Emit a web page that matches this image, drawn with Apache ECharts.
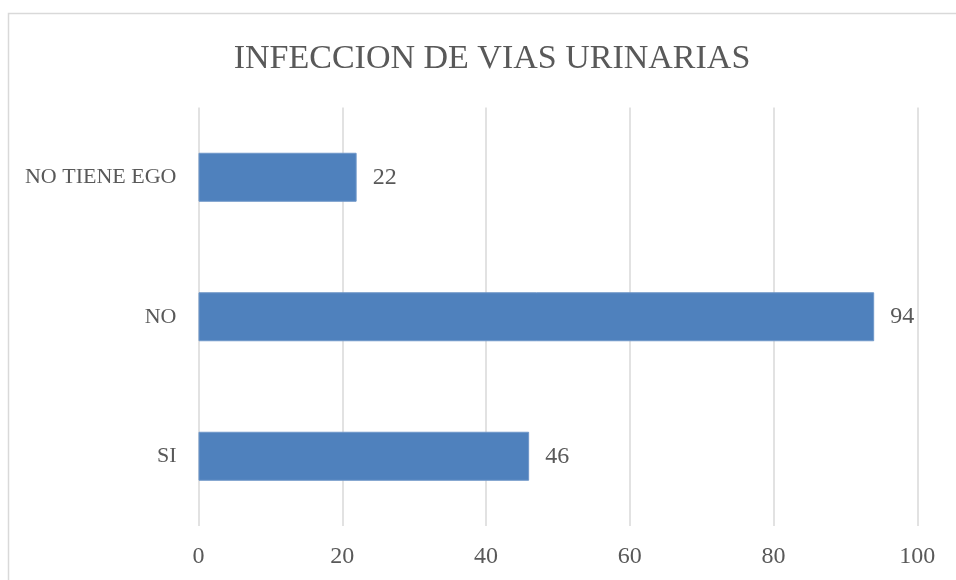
<!DOCTYPE html>
<html>
<head>
<meta charset="utf-8">
<script src="https://cdn.jsdelivr.net/npm/echarts@6/dist/echarts.min.js"></script>
<style>
  html, body { margin: 0; padding: 0; background: #fff; }
  #main { width: 956px; height: 580px; }
</style>
</head>
<body>
<div id="main"></div>
<script>
// datos del grafico
var categorias = ["SI", "NO", "NO TIENE EGO"];
var valores = [46, 94, 22];
var ejeMin = 0;
var ejeMax = 100;
var ejePaso = 20;

var fuente = "Liberation Serif";
var gris = "#595959";

var myChart = echarts.init(document.getElementById("main"));
myChart.setOption({
  animation: false,
  title: {
    text: "INFECCION DE VIAS URINARIAS",
    left: 487,
    top: 54,
    textAlign: "center",
    textVerticalAlign: "middle",
    textStyle: {
      fontFamily: fuente,
      fontSize: 34,
      fontWeight: "normal",
      color: gris
    }
  },
  graphic: [
    {
      type: "rect",
      left: 6,
      top: 11,
      shape: { width: 1000, height: 1000 },
      style: { fill: "none", stroke: "#d9d9d9", lineWidth: 1.5 },
      silent: true
    }
  ],
  grid: {
    left: 198.5,
    right: 38.7,
    top: 107.5,
    bottom: 54
  },
  xAxis: {
    type: "value",
    min: ejeMin,
    max: ejeMax,
    interval: ejePaso,
    axisLine: { show: false },
    axisTick: { show: false },
    splitLine: { lineStyle: { color: "#d9d9d9", width: 1.5 } },
    axisLabel: {
      margin: 19,
      fontFamily: fuente,
      fontSize: 24,
      color: gris
    }
  },
  yAxis: {
    type: "category",
    data: categorias,
    axisLine: { show: false },
    axisTick: { show: false },
    splitLine: { show: false },
    axisLabel: {
      margin: 22,
      fontFamily: fuente,
      fontSize: 22,
      color: gris
    }
  },
  series: [
    {
      type: "bar",
      data: valores,
      barWidth: 49,
      itemStyle: {
        color: "#4f81bd",
        borderColor: "#6f97c9",
        borderWidth: 1
      },
      label: {
        show: true,
        position: "right",
        distance: 16,
        fontFamily: fuente,
        fontSize: 24,
        color: gris
      }
    }
  ]
});
</script>
</body>
</html>
